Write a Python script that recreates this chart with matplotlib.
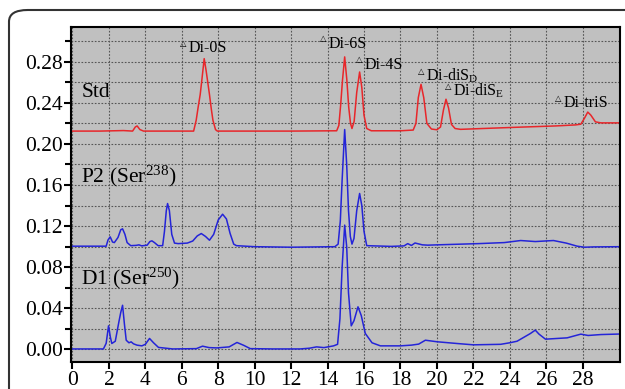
import matplotlib
matplotlib.use("Agg")
import matplotlib.pyplot as plt
from matplotlib.patches import FancyBboxPatch
from matplotlib.ticker import MultipleLocator

plt.rcParams['font.family'] = ['Liberation Serif', 'DejaVu Serif']
plt.rcParams['mathtext.fontset'] = 'custom'
plt.rcParams['mathtext.rm'] = 'Liberation Serif'
plt.rcParams['mathtext.it'] = 'Liberation Serif:italic'
plt.rcParams['mathtext.bf'] = 'Liberation Serif:bold'

# ---- data (retention time in min, absorbance) ----
std_t = [0, 1.5, 2.8, 3.3, 3.45, 3.55, 3.7, 3.9, 5.0, 6.65, 6.79, 6.9, 7.01, 7.1, 7.23, 7.33, 7.41, 7.52, 7.62,
         7.71, 7.85, 7.95, 10, 12, 14.5, 14.62, 14.72, 14.82, 14.94, 15.06, 15.16, 15.26, 15.34, 15.46, 15.6,
         15.76, 15.88, 16.0, 16.15, 16.4, 18.0, 18.7, 18.85, 18.98, 19.13, 19.28, 19.45, 19.7, 20.0, 20.2,
         20.36, 20.5, 20.64, 20.8, 21.0, 21.3, 22.5, 24.5, 26.5, 27.6, 27.9, 28.1, 28.28, 28.45, 28.7, 29.0,
         30.0]
std_y = [0.2125, 0.2125, 0.213, 0.2125, 0.2165, 0.2175, 0.214, 0.2125, 0.2125, 0.2125, 0.223, 0.236, 0.248,
         0.262, 0.283, 0.272, 0.262, 0.248, 0.234, 0.223, 0.214, 0.2125, 0.2125, 0.2125, 0.2128, 0.218, 0.238,
         0.262, 0.2847, 0.262, 0.236, 0.220, 0.215, 0.222, 0.250, 0.270, 0.255, 0.228, 0.215, 0.2128, 0.2128,
         0.2135, 0.220, 0.245, 0.258, 0.245, 0.220, 0.2145, 0.2138, 0.2165, 0.233, 0.2435, 0.235, 0.219,
         0.2150, 0.2142, 0.2150, 0.2163, 0.2175, 0.2185, 0.2192, 0.225, 0.231, 0.228, 0.2215, 0.2205, 0.2205]

p2_t = [0, 1.85, 1.95, 2.07, 2.2, 2.3, 2.5, 2.65, 2.75, 2.88, 3.0, 3.2, 3.5, 3.65, 3.8, 4.1, 4.25, 4.36, 4.5,
        4.7, 4.95, 5.05, 5.15, 5.22, 5.32, 5.45, 5.6, 5.8, 6.3, 6.6, 6.85, 7.07, 7.3, 7.52, 7.75, 8.0, 8.24,
        8.45, 8.65, 8.85, 9.0, 10.0, 12.0, 14.4, 14.58, 14.7, 14.8, 14.94, 15.05, 15.15, 15.25, 15.34, 15.45,
        15.6, 15.76, 15.88, 16.0, 16.15, 17.5, 18.2, 18.4, 18.6, 18.8, 19.2, 19.5, 20.4, 22.3, 23.7, 24.6,
        25.4, 26.4, 27.1, 27.7, 28.1, 28.6, 30]
p2_y = [0.1005, 0.1005, 0.1065, 0.1096, 0.1045, 0.104, 0.109, 0.1165, 0.1174, 0.112, 0.104, 0.1010, 0.1013,
        0.1018, 0.1008, 0.1015, 0.1050, 0.1057, 0.1040, 0.1010, 0.1010, 0.115, 0.135, 0.142, 0.135, 0.112,
        0.1035, 0.1030, 0.1035, 0.1055, 0.1105, 0.1128, 0.1100, 0.1063, 0.1120, 0.126, 0.1316, 0.127, 0.113,
        0.1025, 0.1010, 0.1000, 0.0995, 0.1000, 0.1025, 0.125, 0.165, 0.214, 0.180, 0.135, 0.110, 0.1025,
        0.108, 0.135, 0.1518, 0.140, 0.115, 0.1010, 0.1003, 0.1008, 0.1030, 0.1012, 0.1036, 0.1018, 0.1015,
        0.1020, 0.1030, 0.1040, 0.1060, 0.1050, 0.1060, 0.1035, 0.1005, 0.0995, 0.0998, 0.1000]

d1_t = [0, 1.7, 1.85, 1.98, 2.08, 2.16, 2.35, 2.55, 2.65, 2.75, 2.85, 2.95, 3.1, 3.22, 3.35, 3.54, 3.81, 4.0,
        4.23, 4.45, 4.72, 5.5, 6.8, 7.14, 7.5, 7.93, 8.6, 9.03, 9.4, 9.76, 11.0, 12.5, 13.0, 13.4, 13.8, 14.33,
        14.55, 14.68, 14.8, 14.94, 15.05, 15.15, 15.3, 15.45, 15.67, 15.85, 16.07, 16.44, 16.9, 18.0, 18.6,
        19.0, 19.37, 20.0, 21.1, 22.0, 23.5, 24.0, 24.4, 25.13, 25.4, 25.6, 25.96, 27.15, 27.9, 28.3, 29.0, 30]
d1_y = [0.0005, 0.0005, 0.006, 0.023, 0.012, 0.0058, 0.008, 0.027, 0.036, 0.043, 0.025, 0.009, 0.0065, 0.0074,
        0.0055, 0.0042, 0.0035, 0.005, 0.0107, 0.0065, 0.002, 0.0005, 0.0008, 0.0032, 0.0018, 0.0015, 0.0025,
        0.0068, 0.004, 0.0008, 0.0005, 0.0005, 0.0012, 0.0025, 0.0018, 0.0035, 0.005, 0.03, 0.08, 0.121, 0.10,
        0.055, 0.023, 0.028, 0.0415, 0.033, 0.0156, 0.0065, 0.0035, 0.0035, 0.0042, 0.0052, 0.009, 0.0075,
        0.0058, 0.0045, 0.005, 0.0065, 0.008, 0.0155, 0.0188, 0.015, 0.010, 0.0113, 0.0149, 0.0136, 0.0145,
        0.015]

sample_labels = ['Std', 'P2 (Ser$^{238}$)', 'D1 (Ser$^{250}$)']
sample_label_pos = [(0.48, 0.2455), (0.48, 0.163), (0.48, 0.0632)]

peak_names = ['Di-0S', 'Di-6S', 'Di-4S', 'Di-diS$_{\\mathrm{D}}$', 'Di-diS$_{\\mathrm{E}}$', 'Di-triS']
peak_label_pos = [(5.92, 0.289), (13.56, 0.2938), (15.58, 0.2734), (18.95, 0.262), (20.43, 0.2474), (26.47, 0.2355)]

x_ticks = list(range(0, 30, 2))
y_ticks = [0.00, 0.04, 0.08, 0.12, 0.16, 0.20, 0.24, 0.28]

# ---- figure ----
fig = plt.figure(figsize=(6.25, 3.89), dpi=100)
border = FancyBboxPatch((9 / 625, -0.2), 1.2, 1.2 - 10 / 389,
                        boxstyle="round,pad=0,rounding_size=0.03",
                        transform=fig.transFigure, fill=False, ec='#333333', lw=1.5)
border.set_clip_on(False)
fig.patches.append(border)

ax = fig.add_axes([71 / 625, 1 - 362.3 / 389, (620 - 71) / 625, (362.3 - 27.3) / 389])
ax.set_facecolor('#c0c0c0')

ax.plot(std_t, std_y, color='#e8262a', lw=1.1)
ax.plot(p2_t, p2_y, color='#2424d8', lw=1.1)
ax.plot(d1_t, d1_y, color='#2424d8', lw=1.1)

ax.set_xlim(-0.08, 30.05)
ax.set_ylim(-0.0125, 0.3135)
ax.set_xticks(x_ticks)
ax.set_yticks(y_ticks)
ax.set_yticklabels([f'{v:.2f}' for v in y_ticks])
ax.yaxis.set_minor_locator(MultipleLocator(0.02))
ax.grid(True, which='both', axis='y', color='#555555', ls=(0, (1.5, 1.5)), lw=0.8)
ax.grid(True, which='major', axis='x', color='#555555', ls=(0, (1.5, 1.5)), lw=0.8)
ax.tick_params(axis='both', which='major', direction='out', length=5, width=1.5, labelsize=15.5,
               pad=1, colors='black')
ax.tick_params(axis='y', which='minor', direction='out', length=4, width=1.5)
for s in ax.spines.values():
    s.set_linewidth(1.5)
    s.set_color('black')
ax.set_axisbelow(True)

for lab, (x, y) in zip(sample_labels, sample_label_pos):
    ax.text(x, y, lab, fontsize=15.5, va='baseline', ha='left')

for name, (x, y) in zip(peak_names, peak_label_pos):
    ax.annotate('\u25b3', xy=(x, y), xytext=(0, 4.5), textcoords='offset points',
                fontsize=6, family='DejaVu Sans', va='baseline', ha='left')
    ax.annotate(name, xy=(x, y), xytext=(6.3, 0), textcoords='offset points',
                fontsize=11.5, va='baseline', ha='left')

fig.savefig('out.png', dpi=100)
